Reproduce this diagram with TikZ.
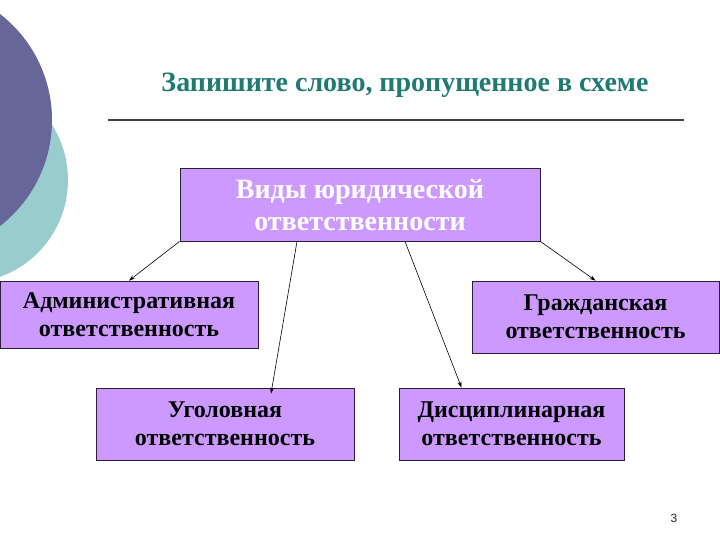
\documentclass[tikz,border=0pt]{standalone}
\usepackage{fontspec}
\setmainfont{Liberation Serif}
\newfontfamily\numfont{Liberation Sans}
\definecolor{boxfill}{HTML}{CC99FF}
\definecolor{boxline}{HTML}{2A1F33}
\definecolor{titlecol}{HTML}{1F7A72}
\definecolor{darkcirc}{HTML}{666699}
\definecolor{tealcirc}{HTML}{99CCCC}
\usetikzlibrary{arrows.meta}
\begin{document}
\begin{tikzpicture}[x=1pt,y=-1pt,
  vbox/.style={draw=boxline, line width=0.8pt, fill=boxfill, align=center, inner sep=0pt,
    font=\fontsize{24}{28}\selectfont\bfseries, text=black},
  arr/.style={-{Stealth[length=6pt,width=4pt]}, line width=0.6pt, black}]
\useasboundingbox (0,0) rectangle (720,540);
\fill[tealcirc] (-35,180) circle (103);
\fill[darkcirc] (-82,120) circle (134);
\node[text=titlecol, font=\fontsize{28}{32}\selectfont\bfseries] (title) at (405,85) {Запишите слово, пропущенное в схеме};
\coordinate (l1) at (108,120);
\coordinate (l2) at (684,120);
\draw[line width=1.5pt, draw={rgb,255:red,64;green,64;blue,64}] (l1) -- (l2);
\node[vbox, minimum width=360, minimum height=73, text=white, font=\fontsize{28}{32}\selectfont\bfseries] (top) at (360,204.5) {Виды юридической\\ответственности};
\node[vbox, minimum width=258, minimum height=67] (adm) at (129,314.5) {Административная\\ответственность};
\node[vbox, minimum width=247, minimum height=72] (civ) at (595.5,317) {Гражданская\\ответственность};
\node[vbox, minimum width=258, minimum height=72] (crim) at (225,424) {Уголовная\\ответственность};
\node[vbox, minimum width=225, minimum height=72] (disc) at (511.5,424) {Дисциплинарная\\ответственность};
\draw[arr] (top.south west) -- (adm.north);
\draw[arr] ([xshift=-63]top.south) -- ([xshift=46,yshift=-6]crim.north);
\draw[arr] ([xshift=45]top.south) -- ([xshift=-50]disc.north);
\draw[arr] (top.south east) -- (civ.north);
\node[font=\numfont\fontsize{12}{14}\selectfont, text={rgb,255:red,40;green,40;blue,40}] (pg) at (674,518) {3};
\end{tikzpicture}
\end{document}
